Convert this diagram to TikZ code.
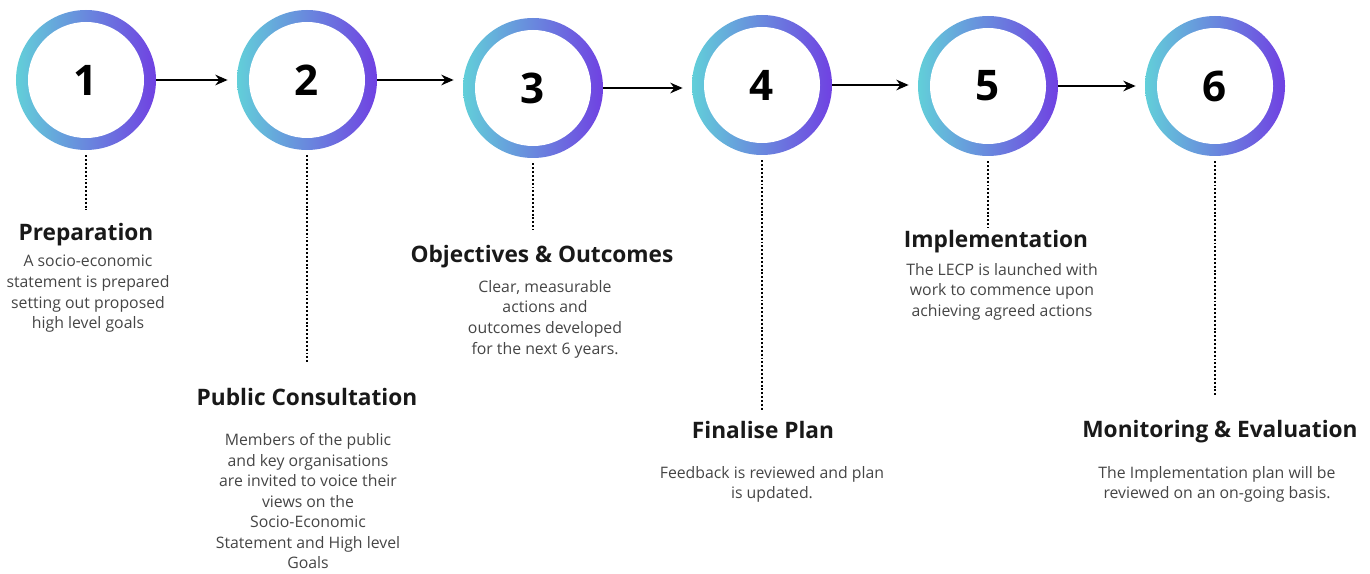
\documentclass[tikz,border=0pt]{standalone}
\usepackage{fontspec}
\setmainfont{Open Sans}
\usetikzlibrary{arrows.meta,positioning}

\definecolor{ringcyan}{HTML}{62CFD9}
\definecolor{ringviolet}{HTML}{7041E2}
\definecolor{bodygray}{HTML}{454545}

\tikzset{
    stepring/.style={circle, inner sep=0pt, minimum size=2.8cm,
        left color=ringcyan, right color=ringviolet,
        path picture={\fill[white] (path picture bounding box.center) circle (1.16cm);},
        font=\fontsize{24}{28}\selectfont\bfseries},
    flow/.style={-{Stealth[length=7pt,width=6pt]}, line width=1.3pt, shorten >=1.8mm},
    leader/.style={line width=1.2pt, dash pattern=on 1.1pt off 1.1pt, shorten <=1mm},
    steptitle/.style={anchor=base, inner sep=0pt, font=\fontsize{12.9}{15}\selectfont\bfseries, text=black!90},
    stepbody/.style={anchor=north, align=center, inner sep=0pt, font=\fontsize{9}{11.7}\selectfont, text=bodygray},
}

\begin{document}
\begin{tikzpicture}[x=0.2mm, y=-0.2mm]
        \useasboundingbox (0,0) rectangle (1370,574);

        % Step circles
        \node[stepring] (c1) at (86,80) {1};
        \node[stepring] (c2) at (307,80) {2};
        \node[stepring] (c3) at (533,88) {3};
        \node[stepring] (c4) at (762,85) {4};
        \node[stepring] (c5) at (988,86) {5};
        \node[stepring] (c6) at (1215,86) {6};

        % Arrows between steps
        \draw[flow] (c1.east) -- (c1.east -| c2.west);
        \draw[flow] (c2.east) -- (c2.east -| c3.west);
        \draw[flow] (c3.east) -- (c3.east -| c4.west);
        \draw[flow] (c4.east) -- (c4.east -| c5.west);
        \draw[flow] (c5.east) -- (c5.east -| c6.west);

        % Ends of the dotted leaders
        \coordinate (e1) at (86,210);
        \coordinate (e2) at (307,363);
        \coordinate (e3) at (533,230);
        \coordinate (e4) at (762,410);
        \coordinate (e5) at (988,228);
        \coordinate (e6) at (1215,395);

        \draw[leader] (c1.south) -- (e1);
        \draw[leader] (c2.south) -- (e2);
        \draw[leader] (c3.south) -- (e3);
        \draw[leader] (c4.south) -- (e4);
        \draw[leader] (c5.south) -- (e5);
        \draw[leader] (c6.south) -- (e6);

        % Step 1
        \node[steptitle] (t1) at (86,240) {Preparation};
        \node[stepbody] (b1) at (88,255) {A socio-economic\\statement is prepared\\setting out proposed\\high level goals};

        % Step 2
        \node[steptitle] (t2) at (307,405) {Public Consultation};
        \node[stepbody] (b2) at (308,433) {Members of the public\\and key organisations\\are invited to voice their\\views on the\\Socio-Economic\\Statement and High level\\Goals};

        % Step 3
        \node[steptitle] (t3) at (542,262) {Objectives \& Outcomes};
        \node[stepbody] (b3) at (545,280) {Clear, measurable\\actions and\\outcomes developed\\for the next 6 years.};

        % Step 4
        \node[steptitle] (t4) at (763,438) {Finalise Plan};
        \node[stepbody] (b4) at (772,466) {Feedback is reviewed and plan\\is updated.};

        % Step 5
        \node[steptitle] (t5) at (996,248) {Implementation};
        \node[stepbody] (b5) at (1002,263) {The LECP is launched with\\work to commence upon\\achieving agreed actions};

        % Step 6
        \node[steptitle] (t6) at (1220,437) {Monitoring \& Evaluation};
        \node[stepbody] (b6) at (1217,466) {The Implementation plan will be\\reviewed on an on-going basis.};
    \end{tikzpicture}
\end{document}
